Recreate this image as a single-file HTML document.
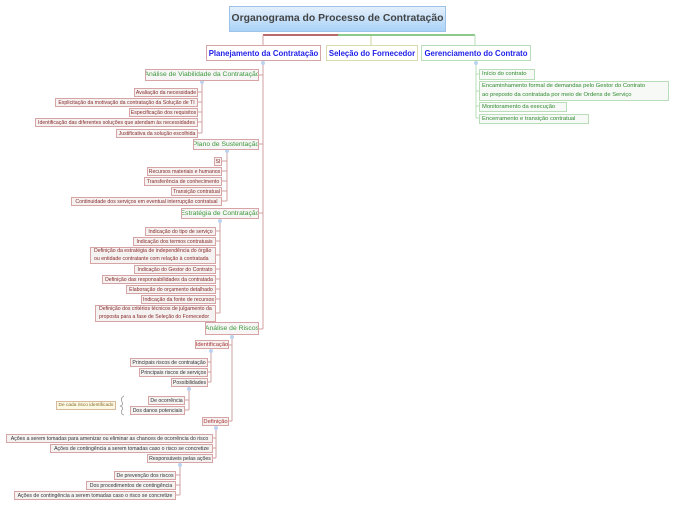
<!DOCTYPE html>
<html><head><meta charset="utf-8"><style>
body{margin:0;width:676px;height:507px;background:#fff;position:relative;overflow:hidden;font-family:"Liberation Sans",sans-serif}
.b{position:absolute;box-sizing:border-box;border:1px solid #d6a4a4;background:#f5f2f2;color:#8a2a2a;font-size:5.2px;display:flex;align-items:center;justify-content:center;white-space:nowrap;line-height:6px;text-align:left;overflow:hidden}
.g{color:#3c9a3c;font-size:6.8px;background:#f7f5f5;line-height:8px}
.t{color:#1f1fe8;font-weight:bold;font-size:7.8px;background:#fff;line-height:9px}
.gr{border-color:#b9dcb9;color:#2e8a2e;background:#f7f9f7;font-size:5.8px;justify-content:flex-start;padding-left:2px;line-height:7px}
.r{color:#a33;font-size:5.8px}
.d{color:#333;}
.m{white-space:normal;justify-content:flex-start;padding-left:3px;line-height:7.5px}
svg{position:absolute;left:0;top:0}
</style></head><body>
<svg width="676" height="507">
<g stroke="#d3a1a1" stroke-width="1" fill="none">
<line x1="263" y1="35" x2="338" y2="35" stroke="#b86a6a" stroke-width="2"/>
<line x1="263" y1="35" x2="263" y2="45"/>
<line x1="263" y1="62" x2="263" y2="329"/>
<line x1="259" y1="75" x2="263" y2="75"/><line x1="259" y1="144" x2="263" y2="144"/><line x1="259" y1="213" x2="263" y2="213"/><line x1="259" y1="329" x2="263" y2="329"/>
<line x1="202" y1="82" x2="202" y2="133"/>
<line x1="198" y1="92" x2="202" y2="92"/><line x1="198" y1="102" x2="202" y2="102"/><line x1="198" y1="112" x2="202" y2="112"/><line x1="198" y1="122" x2="202" y2="122"/><line x1="198" y1="133" x2="202" y2="133"/>
<line x1="227" y1="150" x2="227" y2="201"/>
<line x1="222" y1="161" x2="227" y2="161"/><line x1="222" y1="171" x2="227" y2="171"/><line x1="222" y1="181" x2="227" y2="181"/><line x1="222" y1="191" x2="227" y2="191"/><line x1="222" y1="201" x2="227" y2="201"/>
<line x1="220" y1="220" x2="220" y2="313"/>
<line x1="216" y1="231" x2="220" y2="231"/><line x1="216" y1="241" x2="220" y2="241"/><line x1="216" y1="255" x2="220" y2="255"/><line x1="216" y1="269" x2="220" y2="269"/><line x1="216" y1="279" x2="220" y2="279"/><line x1="216" y1="289" x2="220" y2="289"/><line x1="216" y1="299" x2="220" y2="299"/><line x1="216" y1="313" x2="220" y2="313"/>
<line x1="232" y1="336" x2="232" y2="421"/>
<line x1="229" y1="345" x2="232" y2="345"/><line x1="229" y1="421" x2="232" y2="421"/>
<line x1="211" y1="350" x2="211" y2="382"/>
<line x1="208" y1="362" x2="211" y2="362"/><line x1="208" y1="372" x2="211" y2="372"/><line x1="208" y1="382" x2="211" y2="382"/>
<line x1="189" y1="387" x2="189" y2="410"/>
<line x1="185" y1="400" x2="189" y2="400"/><line x1="185" y1="410" x2="189" y2="410"/>
<line x1="216" y1="427" x2="216" y2="458"/>
<line x1="213" y1="438" x2="216" y2="438"/><line x1="213" y1="448" x2="216" y2="448"/><line x1="213" y1="458" x2="216" y2="458"/>
<line x1="180" y1="463" x2="180" y2="495"/>
<line x1="176" y1="475" x2="180" y2="475"/><line x1="176" y1="485" x2="180" y2="485"/><line x1="176" y1="495" x2="180" y2="495"/>
</g>
<g stroke="#cfd79c" fill="none"><line x1="371" y1="35" x2="371" y2="45"/></g>
<g stroke="#66b866" fill="none"><line x1="338" y1="35" x2="475" y2="35" stroke-width="1.5"/><line x1="475" y1="35" x2="475" y2="45" stroke="#b9dcb9"/></g>
<g stroke="#b9dcb9" fill="none"><line x1="476" y1="62" x2="476" y2="118"/>
<line x1="476" y1="74" x2="479" y2="74"/><line x1="476" y1="91" x2="479" y2="91"/><line x1="476" y1="106" x2="479" y2="106"/><line x1="476" y1="118" x2="479" y2="118"/></g>
<g fill="#bcd3f0"><circle cx="263" cy="63" r="2"/><circle cx="202" cy="82" r="2"/><circle cx="227" cy="151" r="2"/><circle cx="220" cy="221" r="2"/><circle cx="232" cy="337" r="2"/><circle cx="211" cy="351" r="2"/><circle cx="189" cy="389" r="2"/><circle cx="216" cy="428" r="2"/><circle cx="180" cy="465" r="2"/><circle cx="476" cy="63" r="2"/></g>
<path d="M124 396 Q120 398 122 402 Q124 405 120 406 Q124 407 122 410 Q120 414 124 415" stroke="#999" fill="none" stroke-width="0.8"/>
</svg>
<div class="b" style="left:229px;top:6px;width:217px;height:26px;background:linear-gradient(#e4f0fc,#a9d2f7);border-color:#9ec3e6;color:#444;font-size:10.4px;font-weight:bold;line-height:12px">Organograma do Processo de Contratação</div>
<div class="b t" style="left:206px;top:45px;width:115px;height:16px">Planejamento da Contratação</div>
<div class="b t" style="left:326px;top:45px;width:92px;height:16px;border-color:#d8dcaa">Seleção do Fornecedor</div>
<div class="b t" style="left:421px;top:45px;width:110px;height:16px;border-color:#b9dcb9">Gerenciamento do Contrato</div>

<div class="b g" style="left:145px;top:69px;width:114px;height:12px">Análise de Viabilidade da Contratação</div>
<div class="b" style="left:134px;top:88px;width:64px;height:9px">Avaliação da necessidade</div>
<div class="b" style="left:55px;top:98px;width:143px;height:9px">Explicitação da motivação da contratação da Solução de TI</div>
<div class="b" style="left:129px;top:108px;width:69px;height:9px">Especificação dos requisitos</div>
<div class="b" style="left:35px;top:118px;width:163px;height:9px">Identificação das diferentes soluções que atendam às necessidades</div>
<div class="b" style="left:116px;top:129px;width:82px;height:9px">Justificativa da solução escolhida</div>

<div class="b g" style="left:193px;top:139px;width:66px;height:11px">Plano de Sustentação</div>
<div class="b" style="left:214px;top:157px;width:8px;height:9px">SI</div>
<div class="b" style="left:147px;top:167px;width:75px;height:9px">Recursos materiais e humanos</div>
<div class="b" style="left:144px;top:177px;width:78px;height:9px">Transferência de conhecimento</div>
<div class="b" style="left:171px;top:187px;width:51px;height:9px">Transição contratual</div>
<div class="b" style="left:71px;top:197px;width:151px;height:9px">Continuidade dos serviços em eventual interrupção contratual</div>

<div class="b g" style="left:181px;top:208px;width:78px;height:11px">Estratégia de Contratação</div>
<div class="b" style="left:145px;top:227px;width:71px;height:9px">Indicação do tipo de serviço</div>
<div class="b" style="left:133px;top:237px;width:83px;height:9px">Indicação dos termos contratuais</div>
<div class="b m" style="left:90px;top:247px;width:126px;height:17px">Definição da estratégia de independência do órgão<br>ou entidade contratante com relação à contratada</div>
<div class="b" style="left:134px;top:265px;width:82px;height:9px">Indicação do Gestor do Contrato</div>
<div class="b" style="left:102px;top:275px;width:114px;height:9px">Definição das responsabilidades da contratada</div>
<div class="b" style="left:126px;top:285px;width:90px;height:9px">Elaboração do orçamento detalhado</div>
<div class="b" style="left:141px;top:295px;width:75px;height:9px">Indicação da fonte de recursos</div>
<div class="b m" style="left:95px;top:305px;width:121px;height:17px">Definição dos critérios técnicos de julgamento da<br>proposta para a fase de Seleção do Fornecedor</div>

<div class="b g" style="left:205px;top:322px;width:54px;height:13px">Análise de Riscos</div>
<div class="b r" style="left:195px;top:340px;width:34px;height:9px">Identificação</div>
<div class="b d" style="left:130px;top:358px;width:78px;height:9px">Principais riscos de contratação</div>
<div class="b d" style="left:139px;top:368px;width:69px;height:9px">Principais riscos de serviços</div>
<div class="b d" style="left:171px;top:378px;width:37px;height:9px">Possibilidades</div>
<div class="b d" style="left:148px;top:396px;width:37px;height:9px">De ocorrência</div>
<div class="b d" style="left:130px;top:406px;width:55px;height:9px">Dos danos potenciais</div>
<div class="b" style="left:56px;top:401px;width:60px;height:9px;background:#fbf8e4;color:#8a6a2a;border-color:#d6b89a;font-size:4.8px">De cada risco identificado</div>
<div class="b r" style="left:202px;top:417px;width:27px;height:9px">Definição</div>
<div class="b d" style="left:6px;top:434px;width:207px;height:9px">Ações a serem tomadas para amenizar ou eliminar as chances de ocorrência do risco</div>
<div class="b d" style="left:50px;top:444px;width:163px;height:9px">Ações de contingência a serem tomadas caso o risco se concretize</div>
<div class="b d" style="left:147px;top:454px;width:66px;height:9px">Responsáveis pelas ações</div>
<div class="b d" style="left:114px;top:471px;width:62px;height:9px">De prevenção dos riscos</div>
<div class="b d" style="left:86px;top:481px;width:90px;height:9px">Dos procedimentos de contingência</div>
<div class="b d" style="left:14px;top:491px;width:162px;height:9px">Ações de contingência a serem tomadas caso o risco se concretize</div>

<div class="b gr" style="left:479px;top:69px;width:56px;height:11px">Início do contrato</div>
<div class="b gr" style="left:479px;top:81px;width:190px;height:20px;line-height:9px">Encaminhamento formal de demandas pelo Gestor do Contrato<br>ao preposto da contratada por meio de Ordens de Serviço</div>
<div class="b gr" style="left:479px;top:102px;width:88px;height:10px">Monitoramento da execução</div>
<div class="b gr" style="left:479px;top:114px;width:110px;height:10px">Encerramento e transição contratual</div>
</body></html>
